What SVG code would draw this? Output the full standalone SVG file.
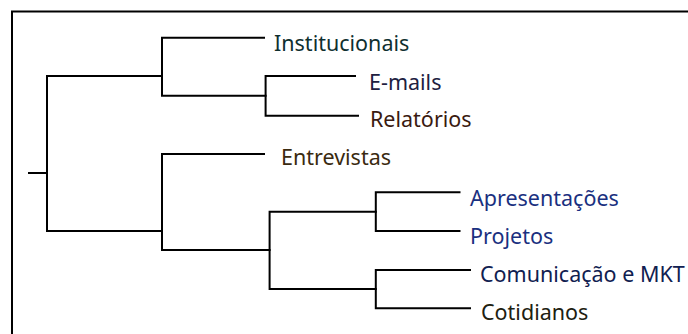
<svg xmlns="http://www.w3.org/2000/svg" width="688" height="334" viewBox="0 0 688 334">
<style>
.ln{stroke:#000;stroke-width:2;fill:none;stroke-linecap:square}
text{font-family:"Noto Sans","Open Sans","DejaVu Sans",sans-serif;font-size:21.5px}
</style>
<rect x="0" y="0" width="688" height="334" fill="#fff"/>
<rect id="frame" x="12" y="11.5" width="700" height="340" fill="none" stroke="#000" stroke-width="2"/>
<g id="connectors" class="ln">
<path d="M29 173H47M47 76V231M47 76H162M47 231H162"/>
<path d="M162 37.7V95.7M162 37.7H264M162 95.7H265.6"/>
<path d="M265.6 76V115.7M265.6 76H355M265.6 115.7H358"/>
<path d="M162 154V250M162 154H264M162 250H269.6"/>
<path d="M269.6 211.7V289M269.6 211.7H375.8M269.6 289H375.8"/>
<path d="M375.8 192.3V231M375.8 192.3H459.5M375.8 231H459.5"/>
<path d="M375.8 270V308.3M375.8 270H470M375.8 308.3H470"/>
</g>
<g id="n-institucionais"><text x="274" y="51" fill="#0f2f2f">Institucionais</text></g>
<g id="n-emails"><text x="369" y="90" fill="#202040">E-mails</text></g>
<g id="n-relatorios"><text x="370" y="127" fill="#3a1a10">Relatórios</text></g>
<g id="n-entrevistas"><text x="281" y="165" fill="#3a2a10">Entrevistas</text></g>
<g id="n-apresentacoes"><text x="470" y="206" fill="#1a3080">Apresentações</text></g>
<g id="n-projetos"><text x="470" y="244" fill="#1a3080">Projetos</text></g>
<g id="n-comunicacao"><text x="480" y="282" fill="#102050">Comunicação e MKT</text></g>
<g id="n-cotidianos"><text x="481" y="320" fill="#202010">Cotidianos</text></g>
</svg>
